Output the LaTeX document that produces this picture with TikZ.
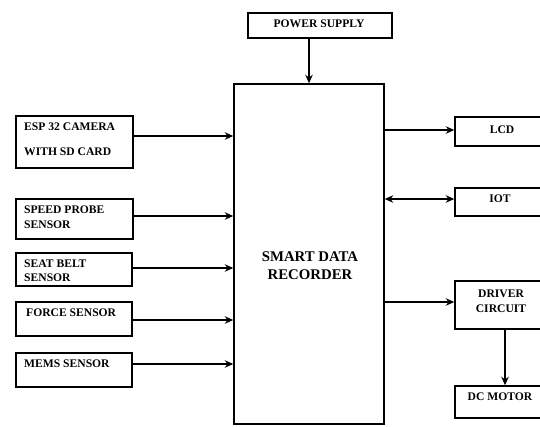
\documentclass[tikz,border=0pt]{standalone}
\usepackage{fontspec}
\setmainfont{Liberation Serif}
\usetikzlibrary{arrows.meta}
\begin{document}
\begin{tikzpicture}[x=1pt,y=-1pt,
  box/.style={draw, line width=1.5pt, inner sep=0pt},
  lbl/.style={inner sep=0pt, font=\fontsize{11.6}{13}\selectfont\bfseries},
  big/.style={inner sep=0pt, font=\fontsize{14.8}{16}\selectfont\bfseries},
  tip/.style={Stealth[length=8.5pt,width=7.5pt]},
  arr/.style={line width=1.5pt, -{Stealth[length=8.5pt,width=7.5pt]}},
  darr/.style={line width=1.5pt, {Stealth[length=8.5pt,width=7.5pt]}-{Stealth[length=8.5pt,width=7.5pt]}}]
\clip (0,0) rectangle (540,426);
% boxes
\node[box, minimum width=144pt, minimum height=25pt] (power) at (320,25.5) {};
\node[box, minimum width=150pt, minimum height=340pt] (main) at (309,254) {};
\node[box, minimum width=93pt, minimum height=29pt] (lcd) at (501.5,131.5) {};
\node[box, minimum width=93pt, minimum height=28pt] (iot) at (501.5,202) {};
\node[box, minimum width=93pt, minimum height=48pt] (drv) at (501.5,305) {};
\node[box, minimum width=93pt, minimum height=32pt] (dcm) at (501.5,402) {};
\node[box, minimum width=117pt, minimum height=52pt] (esp) at (74.5,142) {};
\node[box, minimum width=117pt, minimum height=40pt] (speed) at (74.5,219) {};
\node[box, minimum width=116pt, minimum height=33pt] (seat) at (74,269.5) {};
\node[box, minimum width=116pt, minimum height=34pt] (force) at (74,319) {};
\node[box, minimum width=116pt, minimum height=34pt] (mems) at (74,370) {};
% texts
\node[lbl] (powert) at (319,24) {POWER SUPPLY};
\node[big] (maint1) at (310,257) {SMART DATA};
\node[big] (maint2) at (310,275) {RECORDER};
\node[lbl] (lcdt) at (502,130) {LCD};
\node[lbl] (iott) at (500,199) {IOT};
\node[lbl] (drvt1) at (501,294) {DRIVER};
\node[lbl] (drvt2) at (501,309) {CIRCUIT};
\node[lbl] (dcmt) at (500,397) {DC MOTOR};
\node[lbl, anchor=west] (espt1) at (24,127) {ESP 32 CAMERA};
\node[lbl, anchor=west] (espt2) at (24,152) {WITH SD CARD};
\node[lbl, anchor=west] (speedt1) at (24,210) {SPEED PROBE};
\node[lbl, anchor=west] (speedt2) at (24,225) {SENSOR};
\node[lbl, anchor=west] (seatt1) at (24,264) {SEAT BELT};
\node[lbl, anchor=west] (seatt2) at (24,278) {SENSOR};
\node[lbl, anchor=west] (forcet) at (26,313) {FORCE SENSOR};
\node[lbl, anchor=west] (memst) at (24,364) {MEMS SENSOR};
% connectors
\draw[arr] (main.north |- power.south) -- (main.north);
\draw[arr] ([yshift=1.5pt]main.east |- lcd.west) -- ([yshift=1.5pt]lcd.west);
\draw[darr] ([yshift=3pt]main.east |- iot.west) -- ([yshift=3pt]iot.west);
\draw[arr] ([yshift=3pt]main.east |- drv.west) -- ([yshift=3pt]drv.west);
\draw[arr] ([xshift=3.5pt]drv.south) -- ([xshift=3.5pt]dcm.north);
\draw[arr] ([yshift=6pt]esp.east) -- ([yshift=6pt]esp.east -| main.west);
\draw[arr] ([yshift=3pt]speed.east) -- ([yshift=3pt]speed.east -| main.west);
\draw[arr] ([yshift=1.5pt]seat.east) -- ([yshift=1.5pt]seat.east -| main.west);
\draw[arr] ([yshift=-1pt]force.east) -- ([yshift=-1pt]force.east -| main.west);
\draw[arr] ([yshift=6pt]mems.east) -- ([yshift=6pt]mems.east -| main.west);
\end{tikzpicture}
\end{document}
